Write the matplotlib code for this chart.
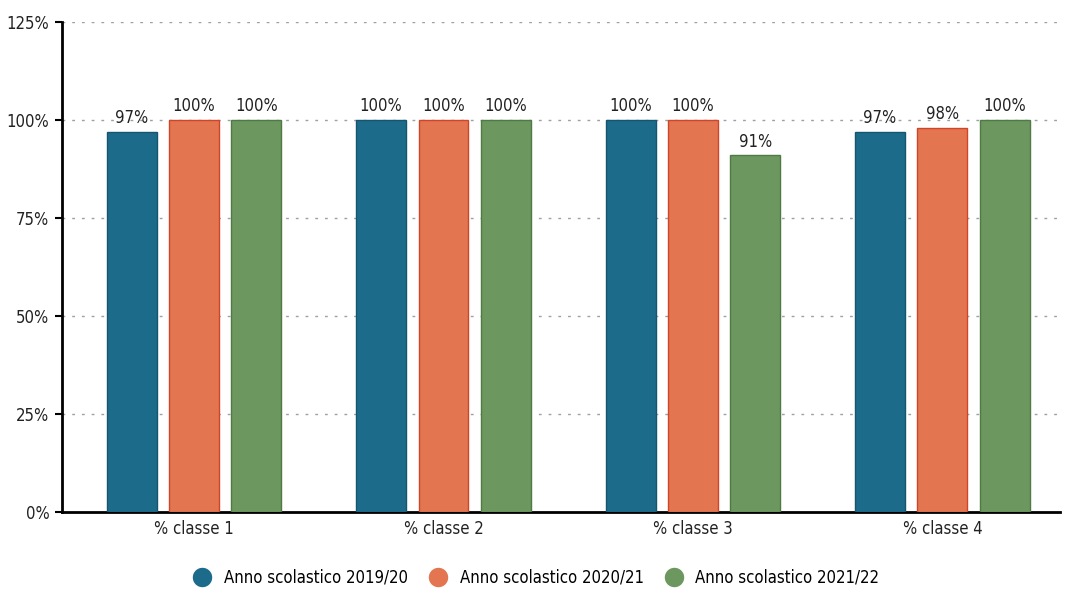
import matplotlib.pyplot as plt
import numpy as np
from matplotlib.lines import Line2D

categories = ["% classe 1", "% classe 2", "% classe 3", "% classe 4"]
series_labels = ["Anno scolastico 2019/20", "Anno scolastico 2020/21", "Anno scolastico 2021/22"]
values_1920 = [97, 100, 100, 97]
values_2021 = [100, 100, 100, 98]
values_2122 = [100, 100, 91, 100]
y_ticks = [0, 25, 50, 75, 100, 125]

colors = ["#1c6b8a", "#e37650", "#6c9860"]
edges = ["#15566f", "#d0452a", "#4f7a45"]

plt.rcParams['font.family'] = ['DejaVu Sans']
plt.rcParams['font.stretch'] = 'condensed'

fig = plt.figure(figsize=(10.65, 6.02), dpi=100)
ax = fig.add_axes([0.058, 0.150, 0.937, 0.813])

x = np.arange(len(categories))
width = 0.2
offsets = [-0.25, 0, 0.25]
all_values = [values_1920, values_2021, values_2122]

for vals, off, c, ec in zip(all_values, offsets, colors, edges):
    bars = ax.bar(x + off, vals, width, color=c, edgecolor=ec, linewidth=1, zorder=3)
    for b, v in zip(bars, vals):
        ax.text(b.get_x() + b.get_width() / 2, v + 1.2, f"{v}%", ha='center', va='bottom',
                fontsize=12, color='#222222', zorder=4)

ax.set_ylim(0, 125)
ax.set_xlim(-0.53, 3.47)
ax.set_yticks(y_ticks)
ax.set_yticklabels([f"{t}%" for t in y_ticks], fontsize=12, color='#222222')
ax.set_xticks(x)
ax.set_xticklabels(categories, fontsize=12, color='#222222')
ax.tick_params(axis='x', length=0, pad=6)
ax.tick_params(axis='y', length=5, width=1.5, direction='out', pad=4)

for t in y_ticks[1:]:
    ax.axhline(t, color='#9aa0a6', linestyle=(0, (2, 5)), linewidth=1, zorder=1)

for s in ['top', 'right']:
    ax.spines[s].set_visible(False)
ax.spines['left'].set_linewidth(2)
ax.spines['bottom'].set_linewidth(2)

handles = [Line2D([0], [0], marker='o', color='w', markerfacecolor=c, markersize=15, linestyle='')
           for c in colors]
fig.legend(handles, series_labels, loc='center', bbox_to_anchor=(0.5, 0.04), ncol=3,
           frameon=False, fontsize=12, handletextpad=0.3, columnspacing=0.8)

fig.savefig("out.png", dpi=100, facecolor='white')
